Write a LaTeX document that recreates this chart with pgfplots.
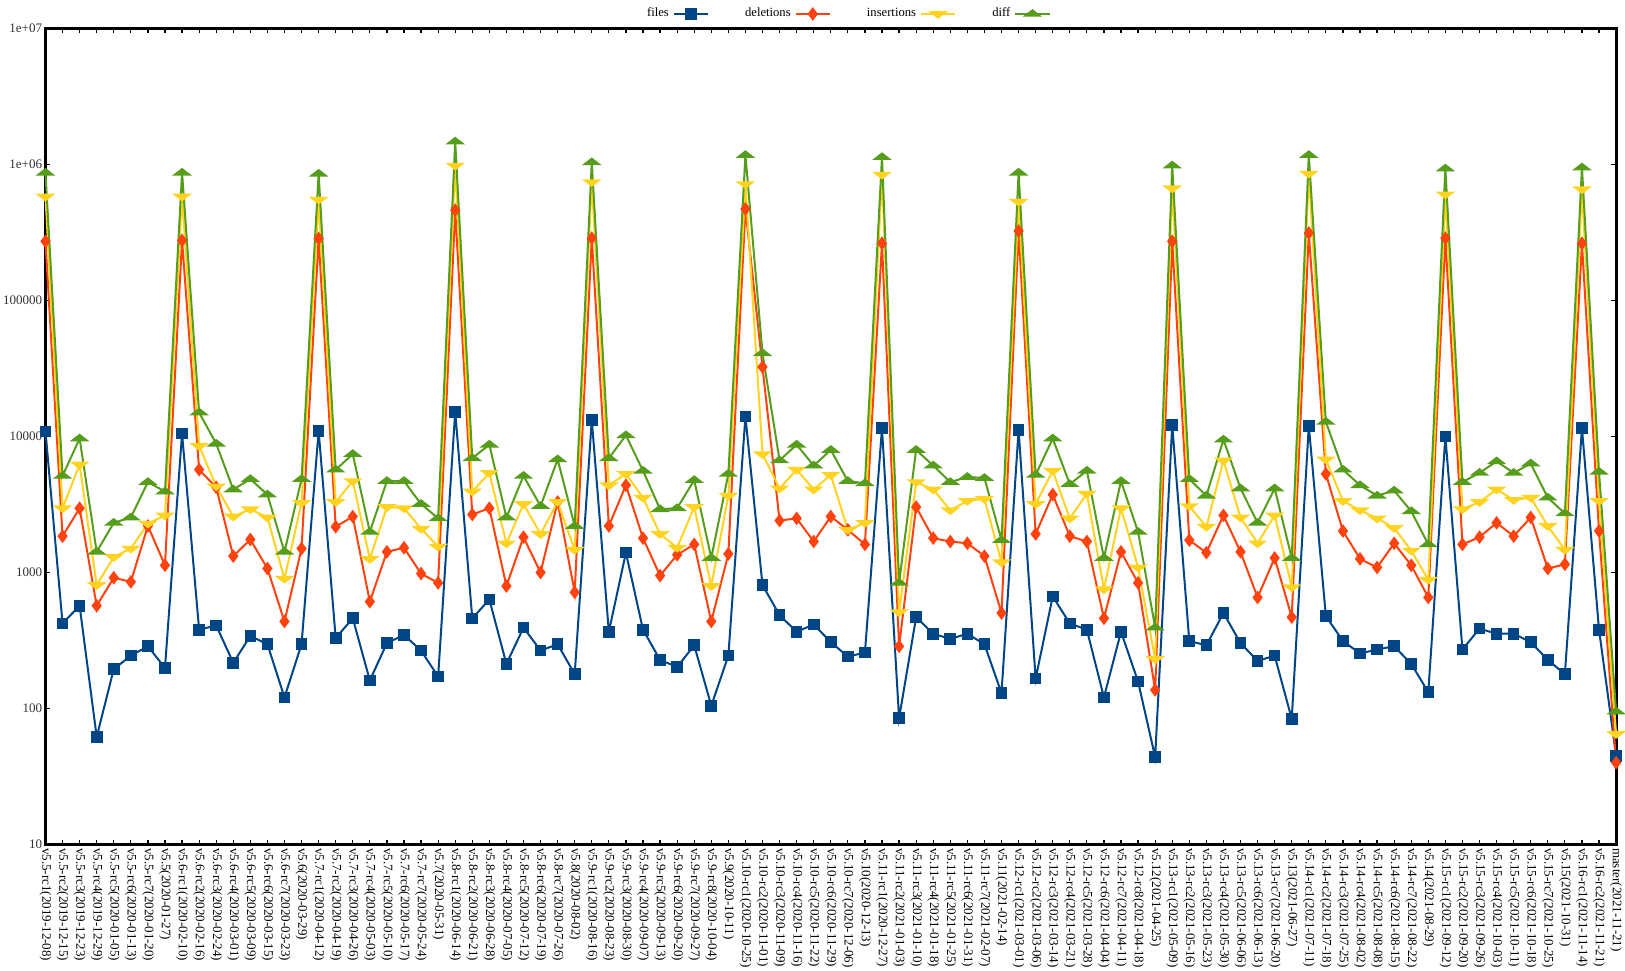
\documentclass[border=0pt]{standalone}
\usepackage{pgfplots}
\usepackage{pgfplotstable}
\pgfplotsset{compat=1.18}
\usepackage{fontspec}
\setmainfont{Liberation Serif}

\definecolor{cfiles}{HTML}{004586}
\definecolor{cdel}{HTML}{FF420E}
\definecolor{cins}{HTML}{FFD320}
\definecolor{cdiff}{HTML}{579D1C}

% x files deletions insertions diff
\pgfplotstableread{
x files del ins diff
0 10900 272000 580000 868000
1 423 1850 2970 5130
2 570 2970 6220 9660
3 62 570 810 1420
4 195 916 1300 2320
5 245 854 1500 2540
6 287 2200 2290 4620
7 199 1130 2630 3940
8 10500 276000 580000 868000
9 380 5700 8530 15000
10 408 4230 4300 8850
11 217 1320 2580 4080
12 342 1750 2920 4860
13 297 1070 2540 3740
14 121 437 900 1420
15 297 1500 3250 4860
16 11000 285000 550000 853000
17 330 2170 3300 5700
18 461 2580 4700 7420
19 161 611 1260 1990
20 303 1420 3030 4700
21 348 1520 2970 4700
22 267 982 2100 3190
23 172 839 1550 2500
24 15200 461000 980000 1470000
25 460 2670 3940 6920
26 634 2970 5400 8700
27 213 796 1640 2540
28 394 1820 3190 5130
29 267 1000 1920 3080
30 297 3300 3300 6790
31 179 716 1470 2200
32 13200 287000 741000 1035000
33 367 2200 4380 6920
34 1400 4380 5310 10200
35 380 1790 3550 5600
36 228 949 1920 2920
37 202 1350 1520 2970
38 292 1610 3030 4780
39 105 437 796 1280
40 245 1370 3670 5310
41 14000 470000 716000 1170000
42 809 32400 7420 40900
43 486 2410 4150 6670
44 367 2500 5700 8700
45 415 1690 4080 6110
46 308 2580 5220 7960
47 241 2060 2060 4700
48 258 1610 2320 4530
49 11500 263000 840000 1130000
50 85 287 512 839
51 470 3030 4620 7960
52 355 1790 4080 6110
53 325 1690 2870 4620
54 355 1640 3360 5040
55 297 1320 3480 4950
56 130 504 1190 1730
57 11200 324000 531000 868000
58 166 1920 3190 5220
59 667 3740 5600 9660
60 423 1850 2500 4460
61 380 1690 3800 5600
62 121 461 755 1280
63 367 1420 2970 4700
64 158 839 1090 1990
65 44 137 232 394
66 12100 272000 667000 980000
67 314 1730 3080 4860
68 292 1400 2170 3670
69 504 2630 6670 9480
70 303 1420 2540 4150
71 224 656 1640 2320
72 245 1280 2630 4150
73 84 470 782 1280
74 12000 313000 853000 1170000
75 478 5310 6790 12800
76 314 2020 3360 5700
77 254 1260 2870 4380
78 272 1090 2500 3670
79 287 1640 2130 4000
80 213 1130 1450 2820
81 132 656 885 1610
82 10000 287000 601000 931000
83 272 1610 2920 4620
84 387 1820 3300 5400
85 355 2320 4080 6560
86 355 1850 3420 5400
87 308 2540 3550 6330
88 228 1070 2200 3550
89 179 1150 1470 2720
90 11500 263000 656000 948000
91 380 2020 3360 5500
92 45 40 65 95
}\commits

\begin{document}
\begin{tikzpicture}
\begin{axis}[
    scale only axis,
    width=784pt,
    height=407.5pt,
    ymode=log,
    log basis y=10,
    ymin=10, ymax=1e7,
    xmin=0, xmax=92,
    ytick={10,100,1000,10000,100000,1000000,10000000},
    yticklabels={10,100,1000,10000,100000,\mbox{1e+06},\mbox{1e+07}},
    xtick={0,...,92},
    xticklabels={
      v5.5-rc1(2019-12-08),v5.5-rc2(2019-12-15),v5.5-rc3(2019-12-23),v5.5-rc4(2019-12-29),
      v5.5-rc5(2020-01-05),v5.5-rc6(2020-01-13),v5.5-rc7(2020-01-20),v5.5(2020-01-27),
      v5.6-rc1(2020-02-10),v5.6-rc2(2020-02-16),v5.6-rc3(2020-02-24),v5.6-rc4(2020-03-01),
      v5.6-rc5(2020-03-09),v5.6-rc6(2020-03-15),v5.6-rc7(2020-03-23),v5.6(2020-03-29),
      v5.7-rc1(2020-04-12),v5.7-rc2(2020-04-19),v5.7-rc3(2020-04-26),v5.7-rc4(2020-05-03),
      v5.7-rc5(2020-05-10),v5.7-rc6(2020-05-17),v5.7-rc7(2020-05-24),v5.7(2020-05-31),
      v5.8-rc1(2020-06-14),v5.8-rc2(2020-06-21),v5.8-rc3(2020-06-28),v5.8-rc4(2020-07-05),
      v5.8-rc5(2020-07-12),v5.8-rc6(2020-07-19),v5.8-rc7(2020-07-26),v5.8(2020-08-02),
      v5.9-rc1(2020-08-16),v5.9-rc2(2020-08-23),v5.9-rc3(2020-08-30),v5.9-rc4(2020-09-07),
      v5.9-rc5(2020-09-13),v5.9-rc6(2020-09-20),v5.9-rc7(2020-09-27),v5.9-rc8(2020-10-04),
      v5.9(2020-10-11),v5.10-rc1(2020-10-25),v5.10-rc2(2020-11-01),v5.10-rc3(2020-11-09),
      v5.10-rc4(2020-11-16),v5.10-rc5(2020-11-22),v5.10-rc6(2020-11-29),v5.10-rc7(2020-12-06),
      v5.10(2020-12-13),v5.11-rc1(2020-12-27),v5.11-rc2(2021-01-03),v5.11-rc3(2021-01-10),
      v5.11-rc4(2021-01-18),v5.11-rc5(2021-01-25),v5.11-rc6(2021-01-31),v5.11-rc7(2021-02-07),
      v5.11(2021-02-14),v5.12-rc1(2021-03-01),v5.12-rc2(2021-03-06),v5.12-rc3(2021-03-14),
      v5.12-rc4(2021-03-21),v5.12-rc5(2021-03-28),v5.12-rc6(2021-04-04),v5.12-rc7(2021-04-11),
      v5.12-rc8(2021-04-18),v5.12(2021-04-25),v5.13-rc1(2021-05-09),v5.13-rc2(2021-05-16),
      v5.13-rc3(2021-05-23),v5.13-rc4(2021-05-30),v5.13-rc5(2021-06-06),v5.13-rc6(2021-06-13),
      v5.13-rc7(2021-06-20),v5.13(2021-06-27),v5.14-rc1(2021-07-11),v5.14-rc2(2021-07-18),
      v5.14-rc3(2021-07-25),v5.14-rc4(2021-08-02),v5.14-rc5(2021-08-08),v5.14-rc6(2021-08-15),
      v5.14-rc7(2021-08-22),v5.14(2021-08-29),v5.15-rc1(2021-09-12),v5.15-rc2(2021-09-20),
      v5.15-rc3(2021-09-26),v5.15-rc4(2021-10-03),v5.15-rc5(2021-10-11),v5.15-rc6(2021-10-18),
      v5.15-rc7(2021-10-25),v5.15(2021-10-31),v5.16-rc1(2021-11-14),v5.16-rc2(2021-11-21),
      master(2021-11-21)},
    xticklabel style={rotate=-90, anchor=west, font=\fontsize{6.5}{7}\selectfont, inner sep=1.5pt},
    yticklabel style={font=\fontsize{6.5}{7}\selectfont, text=black!80, inner sep=1.5pt},
    /pgf/number format/assume math mode=true,
    axis line style={line width=1.5pt},
    tick style={black, line width=0.6pt},
    major tick length=2.5pt,
    minor tick length=1.3pt,
    tick align=inside,
    clip=false,
    legend columns=4,
    legend plot pos=right,
    legend style={draw=none, fill=none, at={(0.5,1)}, anchor=south, xshift=8pt,
      font=\fontsize{6.3}{7}\selectfont,
      /tikz/every even column/.append style={column sep=16pt}},
    every axis plot/.append style={line width=1pt},
]
\addplot[cfiles, mark=square*, mark size=2.4pt] table[x=x, y=files] {\commits};
\addlegendentry{files}
\addplot[cdel, mark=diamond*, mark size=2.6pt] table[x=x, y=del] {\commits};
\addlegendentry{deletions}
\addplot[cins, mark=triangle*, mark size=4pt, mark options={rotate=180, yscale=0.45}] table[x=x, y=ins] {\commits};
\addlegendentry{insertions}
\addplot[cdiff, mark=triangle*, mark size=4pt, mark options={yscale=0.45}] table[x=x, y=diff] {\commits};
\addlegendentry{diff}
\end{axis}
\end{tikzpicture}
\end{document}
